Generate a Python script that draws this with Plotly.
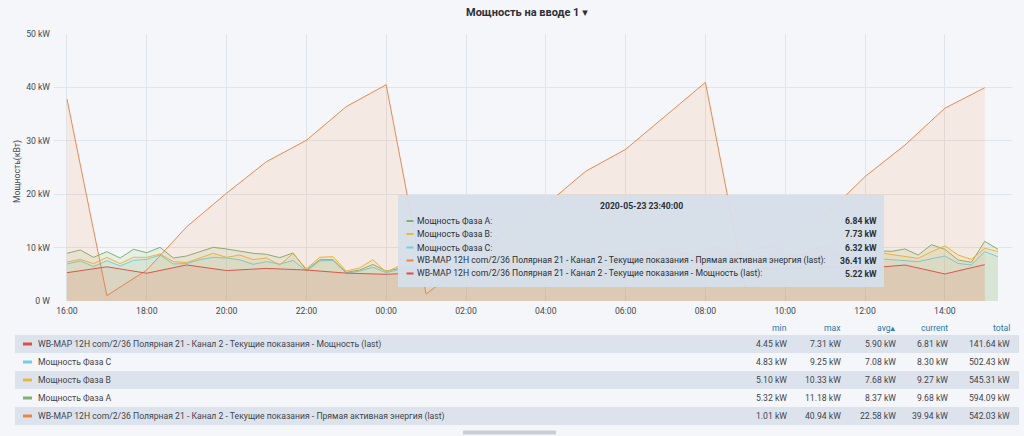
import plotly.graph_objects as go
import pandas as pd

# ---------------- data ----------------
phase_times = pd.date_range("2020-05-23 16:00", periods=71, freq="20min")
hour_times = pd.date_range("2020-05-23 16:00", periods=24, freq="1h")

phase_a = [
    8.93, 9.55, 8.18, 9.24, 8.05, 9.68, 9.05, 10.05, 8.05, 8.43, 9.24, 10.05, 9.74,
    9.36, 8.93, 8.74, 8.11, 9.0, 5.8, 7.74, 7.74, 5.35, 5.8, 6.84, 5.6, 6.1,
    6.4, 5.9, 6.6, 7.2, 6.1, 5.8, 6.9, 7.5, 6.3, 6.0, 7.1, 7.8, 8.3, 7.6, 8.4, 9.1,
    8.7, 9.4, 8.9, 9.8, 9.2, 8.6, 9.5, 10.1, 9.3, 8.8, 9.7, 10.4, 9.0, 8.5, 9.6,
    10.2, 9.1, 8.9, 9.5,
    9.4, 9.3, 9.74, 8.61, 10.55, 9.68, 7.68, 7.24, 11.18, 9.68,
]
phase_b = [
    7.3, 7.8, 7.0, 8.18, 7.0, 8.18, 8.18, 8.8, 7.37, 7.2, 8.05, 8.93, 8.18,
    8.61, 7.74, 8.05, 6.74, 8.9, 6.0, 8.18, 8.3, 5.6, 6.2, 7.73, 5.4, 6.6,
    6.0, 5.5, 6.2, 6.7, 5.6, 5.1, 6.3, 6.9, 5.8, 5.4, 6.6, 7.2, 7.7, 7.0, 7.8, 8.4,
    8.0, 8.6, 8.2, 9.0, 8.5, 7.9, 8.7, 9.3, 8.6, 8.1, 8.9, 9.5, 8.3, 7.8, 8.8,
    9.4, 8.4, 8.2, 8.8,
    9.1, 8.7, 8.3, 7.99, 9.24, 10.33, 8.61, 7.8, 9.86, 9.27,
]
phase_c = [
    6.93, 7.5, 6.45, 7.55, 6.56, 7.6, 7.8, 8.61, 6.93, 7.0, 7.74, 8.18, 8.05,
    7.7, 6.87, 7.37, 6.9, 7.6, 5.6, 7.5, 7.6, 5.2, 5.6, 6.32, 5.3, 5.9,
    5.7, 5.2, 5.9, 6.3, 5.3, 4.83, 5.9, 6.5, 5.5, 5.1, 6.2, 6.8, 7.2, 6.6, 7.3, 7.9,
    7.5, 8.0, 7.6, 8.4, 7.9, 7.4, 8.1, 8.7, 8.0, 7.6, 8.3, 8.9, 7.8, 7.3, 8.2,
    8.8, 7.9, 7.7, 8.1,
    7.9, 7.7, 7.55, 7.37, 7.9, 8.43, 7.05, 6.74, 9.25, 8.30,
]
energy_last = [
    37.8, 1.01, 5.8, 13.9, 20.2, 26.1, 30.1, 36.41, 40.5, 1.3, 7.0, 13.0,
    18.0, 24.3, 28.4, 34.7, 40.94, 2.6, 10.2, 16.0, 23.3, 29.2, 36.1, 39.94,
]
power_last = [
    5.3, 6.4, 5.2, 6.75, 5.7, 6.1, 5.8, 5.22, 5.0, 5.3, 4.45, 5.0,
    5.6, 6.0, 7.31, 6.5, 6.2, 5.9, 6.1, 6.4, 6.1, 6.74, 5.06, 6.81,
]

name_a = "Мощность Фаза А"
name_b = "Мощность Фаза В"
name_c = "Мощность Фаза С"
name_energy = "WB-MAP 12H com/2/36 Полярная 21 - Канал 2 - Текущие показания - Прямая активная энергия (last)"
name_power = "WB-MAP 12H com/2/36 Полярная 21 - Канал 2 - Текущие показания - Мощность (last)"

y_tick_vals = [0, 10, 20, 30, 40, 50]
y_tick_text = ["0 W", "10 kW", "20 kW", "30 kW", "40 kW", "50 kW"]

# legend table (sorted by avg ascending)
legend_names = [name_power, name_c, name_b, name_a, name_energy]
legend_keys = ["power", "c", "b", "a", "energy"]
stat_headers = ["min", "max", "avg\u25b4", "current", "total"]
stat_min = ["4.45 kW", "4.83 kW", "5.10 kW", "5.32 kW", "1.01 kW"]
stat_max = ["7.31 kW", "9.25 kW", "10.33 kW", "11.18 kW", "40.94 kW"]
stat_avg = ["5.90 kW", "7.08 kW", "7.68 kW", "8.37 kW", "22.58 kW"]
stat_current = ["6.81 kW", "8.30 kW", "9.27 kW", "9.68 kW", "39.94 kW"]
stat_total = ["141.64 kW", "502.43 kW", "545.31 kW", "594.09 kW", "542.03 kW"]

# tooltip
tooltip_time = "2020-05-23 23:40:00"
tooltip_keys = ["a", "b", "c", "energy", "power"]
tooltip_names = [name_a + ":", name_b + ":", name_c + ":", name_energy + ":", name_power + ":"]
tooltip_values = ["6.84 kW", "7.73 kW", "6.32 kW", "36.41 kW", "5.22 kW"]

# ---------------- style ----------------
colors = {"a": "#7EB26D", "b": "#EAB839", "c": "#6ED0E0", "energy": "#EF843C", "power": "#E24D42"}
line_colors = {"a": "#7EB26D", "b": "#EAB839", "c": "#6ED0E0", "energy": "#E68A55", "power": "#D9564B"}
BG = "#f5f6f9"
TXT = "#434950"
FONT = "Roboto, DejaVu Sans, sans-serif"
FS = 8.65

W, H = 1024, 436
L, R, T, B = 54, 12, 34, 135


def xp(px):
    return (px - L) / (W - L - R)


def yp(py):
    return (H - B - py) / (H - T - B)


def rgba(hexc, a):
    h = hexc.lstrip("#")
    return "rgba(%d,%d,%d,%.3f)" % (int(h[0:2], 16), int(h[2:4], 16), int(h[4:6], 16), a)


fig = go.Figure()
series = [
    (phase_times, phase_a, "a", name_a),
    (phase_times, phase_b, "b", name_b),
    (phase_times, phase_c, "c", name_c),
    (hour_times, energy_last, "energy", name_energy),
    (hour_times, power_last, "power", name_power),
]
for xs, ys, key, nm in series:
    fig.add_trace(go.Scatter(
        x=xs, y=ys, name=nm, mode="lines",
        line=dict(color=line_colors[key], width=1),
        fill="tozeroy", fillcolor=rgba(colors[key], 0.115),
        hoverinfo="skip", showlegend=False,
    ))

shapes = []
ann = []

# legend table backgrounds
row_y = [344, 362, 380, 398, 416]
for i, ry in enumerate(row_y):
    if i % 2 == 0:
        shapes.append(dict(type="rect", xref="paper", yref="paper",
                           x0=xp(15), x1=xp(1019), y0=yp(ry - 9), y1=yp(ry + 9),
                           fillcolor="#dde3ec", line=dict(width=0), layer="below"))
col_right = [789, 843, 898, 950, 1012]
for j, htxt in enumerate(stat_headers):
    ann.append(dict(x=xp(col_right[j]), y=yp(328), xref="paper", yref="paper",
                    text=htxt, showarrow=False, xanchor="right", yanchor="middle",
                    font=dict(family=FONT, size=FS, color="#2a78b0")))
stat_cols = [stat_min, stat_max, stat_avg, stat_current, stat_total]
for i, ry in enumerate(row_y):
    key = legend_keys[i]
    shapes.append(dict(type="line", xref="paper", yref="paper",
                       x0=xp(23), x1=xp(32), y0=yp(ry), y1=yp(ry),
                       line=dict(color=colors[key], width=3)))
    ann.append(dict(x=xp(36), y=yp(ry), xref="paper", yref="paper",
                    text=legend_names[i], showarrow=False, xanchor="left", yanchor="middle",
                    font=dict(family=FONT, size=FS, color="#3f444c")))
    for j, col in enumerate(stat_cols):
        ann.append(dict(x=xp(col_right[j]), y=yp(ry), xref="paper", yref="paper",
                        text=col[i], showarrow=False, xanchor="right", yanchor="middle",
                        font=dict(family=FONT, size=FS, color="#3f444c")))

# tooltip box
shapes.append(dict(type="rect", xref="paper", yref="paper",
                   x0=xp(398), x1=xp(884), y0=yp(195), y1=yp(287),
                   fillcolor="rgba(214,222,233,0.97)", line=dict(width=0), layer="above"))
ann.append(dict(x=xp(641), y=yp(206), xref="paper", yref="paper",
                text="<b>" + tooltip_time + "</b>", showarrow=False,
                xanchor="center", yanchor="middle",
                font=dict(family=FONT, size=FS, color="#2b2f36")))
tip_y = [221, 234, 247.5, 260.5, 273.5]
for i, ty in enumerate(tip_y):
    key = tooltip_keys[i]
    shapes.append(dict(type="line", xref="paper", yref="paper",
                       x0=xp(406.5), x1=xp(413.5), y0=yp(ty), y1=yp(ty),
                       line=dict(color=colors[key], width=2), layer="above"))
    ann.append(dict(x=xp(415), y=yp(ty), xref="paper", yref="paper",
                    text=tooltip_names[i], showarrow=False, xanchor="left", yanchor="middle",
                    font=dict(family=FONT, size=FS, color="#2b2f36")))
    ann.append(dict(x=xp(879), y=yp(ty), xref="paper", yref="paper",
                    text="<b>" + tooltip_values[i] + "</b>", showarrow=False,
                    xanchor="right", yanchor="middle",
                    font=dict(family=FONT, size=FS, color="#2b2f36")))

# scrollbar hint
shapes.append(dict(type="rect", xref="paper", yref="paper",
                   x0=xp(463), x1=xp(556), y0=yp(430.5), y1=yp(434.5),
                   fillcolor="#c9cdd4", line=dict(width=0)))

# title & y-axis title
ann.append(dict(x=xp(527), y=yp(12), xref="paper", yref="paper",
                text="<b>Мощность на вводе 1</b> \u25be", showarrow=False,
                xanchor="center", yanchor="middle",
                font=dict(family=FONT, size=11, color="#2b2f36")))
ann.append(dict(x=xp(18), y=yp(172), xref="paper", yref="paper",
                text="Мощность(кВт)", showarrow=False, textangle=-90,
                xanchor="center", yanchor="middle",
                font=dict(family=FONT, size=FS, color=TXT)))

fig.update_layout(
    width=W, height=H, autosize=False,
    margin=dict(l=L, r=R, t=T, b=B, pad=0),
    paper_bgcolor=BG, plot_bgcolor=BG,
    font=dict(family=FONT, size=FS, color=TXT),
    shapes=shapes, annotations=ann,
    showlegend=False,
    xaxis=dict(
        type="date",
        range=["2020-05-23 15:40:30", "2020-05-24 15:41:00"],
        dtick=2 * 3600 * 1000, tick0="2020-05-23 00:00",
        tickformat="%H:%M", showgrid=True, gridcolor="#e1e4e9", gridwidth=1,
        zeroline=False, showline=False, ticks="", ticklabelstandoff=3,
        tickfont=dict(family=FONT, size=FS, color=TXT), fixedrange=True,
    ),
    yaxis=dict(
        range=[0, 50], tickvals=y_tick_vals, ticktext=y_tick_text,
        showgrid=True, gridcolor="#e1e4e9", gridwidth=1,
        zeroline=False, showline=False, ticks="", ticklabelstandoff=3,
        tickfont=dict(family=FONT, size=FS, color=TXT), fixedrange=True,
    ),
)

fig.write_html("out.html", config={"displayModeBar": False},
               post_script="document.body.style.margin='0px';document.body.style.overflow='hidden';")
